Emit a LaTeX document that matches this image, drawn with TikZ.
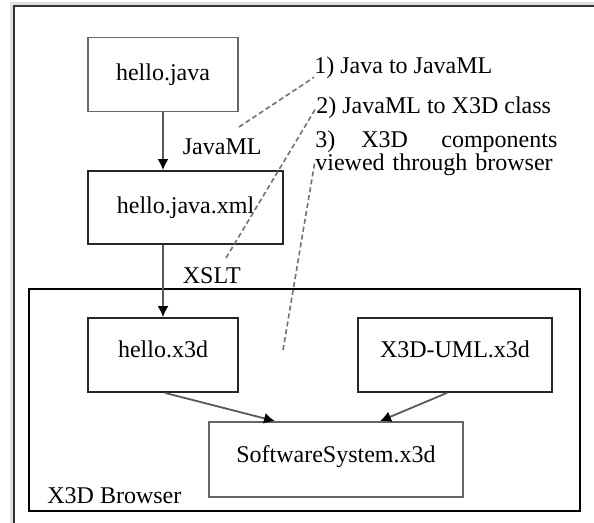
\documentclass[tikz,border=0pt]{standalone}
\usepackage{fontspec}
\setmainfont{Liberation Serif}
\usetikzlibrary{arrows.meta,positioning}

\tikzset{
  filebox/.style={draw=black!85, line width=0.9pt, minimum height=37pt, inner sep=0pt},
  upper/.style={text depth=5.5pt},
  flow/.style={draw=black!65, line width=0.9pt, -{Latex[length=5.5pt,width=5.5pt,color=black]}},
  note/.style={draw=black!55, line width=0.8pt, dash pattern=on 2.5pt off 1.5pt},
  stepnote/.style={anchor=west, inner sep=0pt}
}

\begin{document}
\begin{tikzpicture}[x=0.5pt,y=-0.5pt,font=\fontsize{12}{11.5}\selectfont]
\useasboundingbox (0,0) rectangle (594,523);
% page frame
\fill[black!12] (10,2) rectangle (600,530);
\fill[white] (14,6) rectangle (600,530);
\draw[black!80, line width=1pt] (14,530) -- (14,6) -- (600,6);

% files
\node[filebox, draw=black!60, minimum width=75pt] (java) at (163,74.5) {hello.java};
\node[filebox, minimum width=97.5pt, minimum height=36.5pt] (xml) at (185.5,207.5) {hello.java.xml};
\node[draw, line width=1pt, minimum width=275.5pt, minimum height=111pt] (browser) at (304.5,400) {};
\node[anchor=base west, inner sep=0pt] (blabel) at (47,503) {X3D Browser};
\node[filebox, upper, minimum width=75pt] (hx3d) at (163,355) {hello.x3d};
\node[filebox, upper, minimum width=97pt] (uml) at (455,355) {X3D-UML.x3d};
\node[filebox, upper, draw=black!60, minimum width=127pt, minimum height=37.5pt] (sys) at (336,459.5) {SoftwareSystem.x3d};

% transformations
\draw[flow] (java.south) -- (java.south |- xml.north)
  node[pos=0.6, right=9.5pt, inner sep=0pt] (javaml) {JavaML};
\draw[flow] (hx3d.north |- xml.south) -- (hx3d.north)
  node[pos=0.42, right=9.5pt, inner sep=0pt] (xslt) {XSLT};
\draw[flow] ([xshift=1pt]hx3d.south) -- ([xshift=-30.5pt]sys.north);
\draw[flow] ([xshift=-4pt]uml.south) -- ([xshift=22pt]sys.north);

% steps
\node[stepnote] (step1) at (314,68) {1) Java to JavaML};
\node[stepnote] (step2) at (316,108) {2) JavaML to X3D class};
\node[anchor=north west, inner sep=0pt, text width=121pt, align=left] (step3) at (315,130)
  {3)\hspace{13pt}X3D\hfill components\\viewed through browser};

\coordinate (c1) at (239,127);
\coordinate (c2) at (226,258);
\coordinate (c3) at (283,350);
\draw[note] (c1) -- ([yshift=1pt]step1.south west);
\draw[note] (c2) -- (step2.west);
\draw[note] (c3) -- ([yshift=-4pt]step3.west);
\end{tikzpicture}
\end{document}
